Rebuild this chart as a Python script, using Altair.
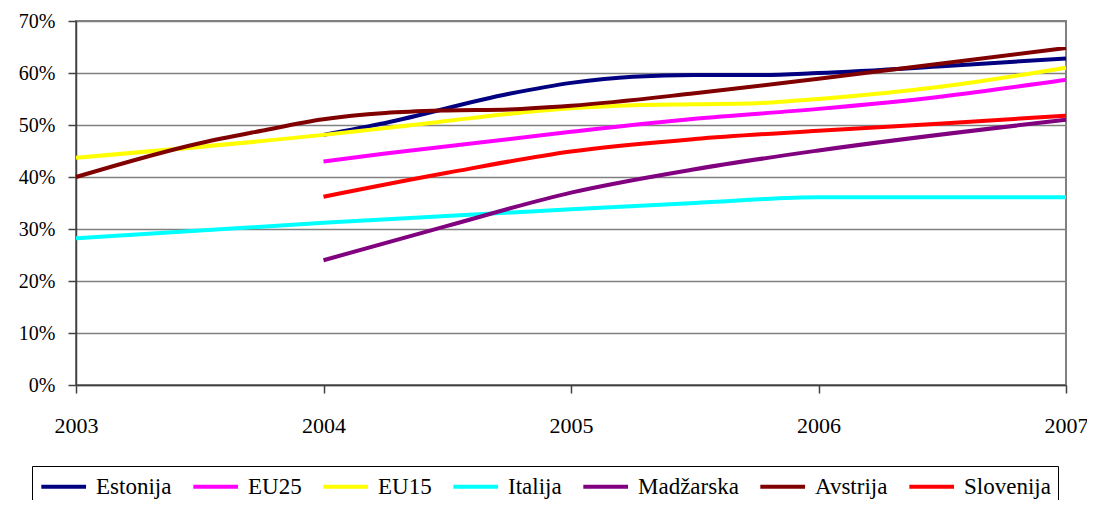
import altair as alt
import pandas as pd

series_names = ["Estonija", "EU25", "EU15", "Italija", "Madžarska", "Avstrija", "Slovenija"]
series_colors = ["#000080", "#FF00FF", "#FFFF00", "#00FFFF", "#800080", "#800000", "#FF0000"]

estonija_years = [2004, 2004.25, 2004.75, 2005, 2005.25, 2005.5, 2005.75, 2006, 2006.5, 2007]
estonija_vals = [48.1, 50.4, 56.0, 58.1, 59.3, 59.6, 59.6, 60.0, 61.3, 62.8]

eu25_years = [2004, 2004.25, 2005, 2005.5, 2006, 2006.5, 2007]
eu25_vals = [43.0, 44.5, 48.7, 51.2, 53.1, 55.5, 58.7]

eu15_years = [2003, 2004, 2004.25, 2005, 2005.25, 2005.5, 2005.75, 2006, 2006.5, 2007]
eu15_vals = [43.7, 48.1, 49.4, 53.2, 53.8, 54.0, 54.2, 55.0, 57.4, 61.0]

italija_years = [2003, 2004, 2005, 2005.5, 2006, 2007]
italija_vals = [28.2, 31.2, 33.8, 35.0, 36.1, 36.1]

madzarska_years = [2004, 2004.5, 2005, 2005.5, 2006, 2007]
madzarska_vals = [24.0, 30.6, 37.0, 41.5, 45.1, 51.0]

avstrija_years = [2003, 2003.5, 2003.75, 2004, 2004.25, 2004.5, 2004.75, 2005, 2005.5, 2006, 2007]
avstrija_vals = [40.0, 46.5, 48.9, 51.1, 52.3, 52.8, 53.0, 53.7, 56.1, 58.9, 64.8]

slovenija_years = [2004, 2004.5, 2005, 2005.5, 2006, 2006.5, 2007]
slovenija_vals = [36.2, 40.8, 44.9, 47.3, 48.9, 50.3, 51.8]

x_ticks = [2003, 2004, 2005, 2006, 2007]
y_ticks = [0, 10, 20, 30, 40, 50, 60, 70]

rows = []
for name, ys, vs in [
    ("Estonija", estonija_years, estonija_vals),
    ("EU25", eu25_years, eu25_vals),
    ("EU15", eu15_years, eu15_vals),
    ("Italija", italija_years, italija_vals),
    ("Madžarska", madzarska_years, madzarska_vals),
    ("Avstrija", avstrija_years, avstrija_vals),
    ("Slovenija", slovenija_years, slovenija_vals),
]:
    for yr, v in zip(ys, vs):
        rows.append({"series": name, "year": yr, "value": v})
df = pd.DataFrame(rows)

font = "'Liberation Serif', 'Times New Roman', serif"

chart = alt.Chart(df).mark_line(strokeWidth=4, interpolate="monotone").encode(
    x=alt.X("year:Q",
            scale=alt.Scale(domain=[2003, 2007], nice=False, zero=False),
            axis=alt.Axis(values=x_ticks, format="d", title=None, grid=False,
                          tickSize=8, tickColor="#404040", tickWidth=1.5,
                          domainColor="#404040", domainWidth=1.5,
                          labelPadding=22, labelFontSize=22, labelFont=font,
                          labelColor="black", labelFlush=False)),
    y=alt.Y("value:Q",
            scale=alt.Scale(domain=[0, 70], nice=False),
            axis=alt.Axis(values=y_ticks, labelExpr="datum.value + '%'", title=None,
                          grid=True, gridColor="#808080", gridWidth=1.5,
                          tickSize=8, tickColor="#404040", tickWidth=1.5,
                          domainColor="#404040", domainWidth=1.5,
                          labelPadding=13, labelFontSize=20, labelFont=font,
                          labelColor="black")),
    color=alt.Color("series:N",
                    scale=alt.Scale(domain=series_names, range=series_colors),
                    sort=series_names,
                    legend=alt.Legend(title=None, orient="none", legendX=-44, legendY=445,
                                      direction="horizontal", columns=7,
                                      symbolType="M-1,0H3", symbolSize=500,
                                      symbolStrokeWidth=4, labelOffset=30,
                                      columnPadding=13, padding=7,
                                      strokeColor="black", labelFont=font,
                                      labelFontSize=23, labelColor="black",
                                      labelLimit=300)),
    detail="series:N",
).properties(
    width=990, height=364,
    autosize=alt.AutoSizeParams(type="none"),
    padding={"left": 68, "top": 13, "right": 21, "bottom": 115},
).configure_view(
    stroke="#808080", strokeWidth=2
)

chart.save("out.html", embed_options={"renderer": "svg", "actions": False})
